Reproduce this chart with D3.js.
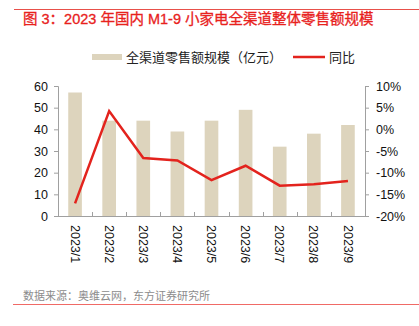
<!DOCTYPE html>
<html>
<head>
<meta charset="utf-8">
<script src="https://cdn.jsdelivr.net/npm/d3@7"></script>
<style>
  body { margin: 0; background: #fff; }
  text { font-family: "Liberation Sans", Arial, "Noto Sans CJK SC", sans-serif; }
</style>
</head>
<body>
<div id="chart"></div>
<script>
// monthly retail sales of small appliances, all channels
var months = ['2023/1', '2023/2', '2023/3', '2023/4', '2023/5', '2023/6', '2023/7', '2023/8', '2023/9'];
var sales = [57, 44, 44, 39, 44, 49, 32, 38, 42];           // 亿元
var yoy = [-17.1, 4.2, -6.6, -7.2, -11.7, -8.4, -13.0, -12.7, -11.9]; // %
var leftTicks = [0, 10, 20, 30, 40, 50, 60];
var rightTicks = [-20, -15, -10, -5, 0, 5, 10];

var svgWidth = 419;
var svgHeight = 326;

var margin = { top: 86, right: 54, bottom: 110, left: 58 };
var width = svgWidth - margin.left - margin.right;
var height = svgHeight - margin.top - margin.bottom;

var barColor = '#ddd4bd';
var lineColor = '#e3231d';
var axisColor = '#a0a0a0';

var svg = d3.select('#chart').append('svg')
    .attr('width', svgWidth)
    .attr('height', svgHeight);

// header / footer rules
svg.append('line')
    .attr('x1', 14).attr('x2', svgWidth)
    .attr('y1', 9.5).attr('y2', 9.5)
    .attr('stroke', '#e8504a').attr('stroke-width', 1);
svg.append('line')
    .attr('x1', 13).attr('x2', svgWidth)
    .attr('y1', 304.5).attr('y2', 304.5)
    .attr('stroke', '#f06a66').attr('stroke-width', 1);

svg.append('text')
    .attr('x', 23).attr('y', 24)
    .attr('fill', '#e8211c')
    .attr('font-size', '14.5px')
    .attr('stroke', '#e8211c')
    .attr('stroke-width', 0.3)
    .text('图 3：2023 年国内 M1-9 小家电全渠道整体零售额规模');

svg.append('text')
    .attr('x', 23).attr('y', 300)
    .attr('fill', '#8c8c8c')
    .attr('font-size', '11px')
    .text('数据来源：奥维云网，东方证券研究所');

// legend
var legend = svg.append('g');
legend.append('rect')
    .attr('x', 92).attr('y', 54)
    .attr('width', 30).attr('height', 6)
    .attr('fill', barColor);
legend.append('text')
    .attr('x', 126).attr('y', 62)
    .attr('font-size', '13px')
    .attr('fill', '#222')
    .text('全渠道零售额规模（亿元）');
legend.append('line')
    .attr('x1', 293).attr('x2', 325)
    .attr('y1', 57).attr('y2', 57)
    .attr('stroke', lineColor).attr('stroke-width', 2.5);
legend.append('text')
    .attr('x', 329).attr('y', 62)
    .attr('font-size', '13px')
    .attr('fill', '#222')
    .text('同比');

var chartGroup = svg.append('g')
    .attr('transform', `translate(${margin.left}, ${margin.top})`);

var xBand = d3.scaleBand()
    .domain(months)
    .range([0, width])
    .paddingInner(0.6)
    .paddingOuter(0.3);

var yLeft = d3.scaleLinear().domain([0, 60]).range([height, 0]);
var yRight = d3.scaleLinear().domain([-20, 10]).range([height, 0]);

// bars
chartGroup.selectAll('.bar')
    .data(sales)
    .enter()
    .append('rect')
    .attr('class', 'bar')
    .attr('x', (d, i) => xBand(months[i]))
    .attr('y', d => yLeft(d))
    .attr('width', xBand.bandwidth())
    .attr('height', d => height - yLeft(d))
    .attr('fill', barColor);

// axes
var leftAxis = d3.axisLeft(yLeft).tickValues(leftTicks).tickSize(4).tickPadding(6);
var rightAxis = d3.axisRight(yRight).tickValues(rightTicks).tickSize(4).tickPadding(7)
    .tickFormat(d => d + '%');

function styleAxis(g) {
    g.select('.domain').attr('stroke', axisColor);
    g.selectAll('.tick line').attr('stroke', axisColor);
    g.selectAll('.tick text')
        .attr('fill', '#111')
        .attr('font-size', '12.5px')
        .style('font-family', '"Liberation Sans", Arial, sans-serif');
}

chartGroup.append('g')
    .call(leftAxis)
    .call(g => g.select('.domain').attr('d', `M-4,0.5H0.5V${height}`))
    .call(styleAxis);

chartGroup.append('g')
    .attr('transform', `translate(${width}, 0)`)
    .call(rightAxis)
    .call(g => g.select('.domain').attr('d', `M4,0.5H0.5V${height}`))
    .call(styleAxis);

// bottom axis: baseline with ticks between categories pointing up
var bottom = chartGroup.append('g')
    .attr('transform', `translate(0, ${height})`);
bottom.append('line')
    .attr('x1', 0).attr('x2', width)
    .attr('y1', 0.5).attr('y2', 0.5)
    .attr('stroke', axisColor);
var step = xBand.step();
bottom.selectAll('.sep')
    .data(d3.range(1, months.length))
    .enter()
    .append('line')
    .attr('x1', d => Math.round(d * step) + 0.5)
    .attr('x2', d => Math.round(d * step) + 0.5)
    .attr('y1', 0).attr('y2', -4)
    .attr('stroke', axisColor);
bottom.selectAll('.xlabel')
    .data(months)
    .enter()
    .append('text')
    .attr('transform', d => `translate(${xBand(d) + xBand.bandwidth() / 2}, 9) rotate(90)`)
    .attr('dy', '0.35em')
    .attr('font-size', '12.5px')
    .attr('fill', '#111')
    .text(d => d);

// year-on-year line on the right scale
var line = d3.line()
    .x((d, i) => xBand(months[i]) + xBand.bandwidth() / 2)
    .y(d => yRight(d));

chartGroup.append('path')
    .datum(yoy)
    .attr('d', line)
    .attr('fill', 'none')
    .attr('stroke', lineColor)
    .attr('stroke-width', 2.5)
    .attr('stroke-linejoin', 'miter');
</script>
</body>
</html>
